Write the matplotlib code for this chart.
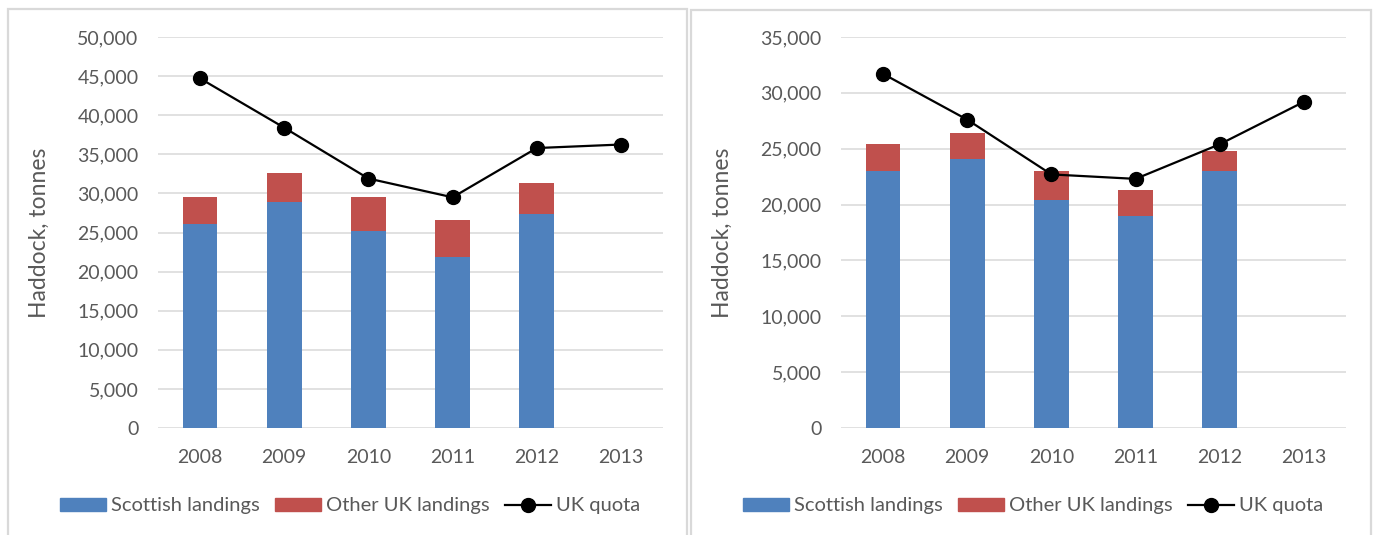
import matplotlib.pyplot as plt
from matplotlib.patches import Rectangle, Patch
from matplotlib.lines import Line2D
from matplotlib.ticker import FuncFormatter, MultipleLocator

plt.rcParams['font.family'] = ['Lato', 'DejaVu Sans']

years = ['2008', '2009', '2010', '2011', '2012', '2013']

# left panel
left_scottish = [26100, 28900, 25200, 21900, 27400, 0]
left_total = [29600, 32600, 29600, 26600, 31300, 0]
left_quota = [44700, 38400, 31900, 29500, 35800, 36250]

# right panel
right_scottish = [23000, 24100, 20450, 19000, 23000, 0]
right_total = [25400, 26400, 23000, 21300, 24800, 0]
right_quota = [31700, 27600, 22700, 22300, 25400, 29200]

blue = '#4F81BD'
red = '#C0504D'
grey_txt = '#595959'
grid_col = '#D9D9D9'

W, H = 1374, 535
fig = plt.figure(figsize=(W / 100, H / 100), dpi=100)


def px_rect(x0, y0, x1, y1):
    # pixel box (top-left origin) -> figure fraction
    return [x0 / W, 1 - y1 / H, (x1 - x0) / W, (y1 - y0) / H]


def draw_panel(box, scottish, total, quota, ymax):
    ax = fig.add_axes(px_rect(*box))
    x = list(range(len(years)))
    other = [t - s for t, s in zip(total, scottish)]
    ax.bar(x, scottish, width=0.41, color=blue, zorder=2)
    ax.bar(x, other, width=0.41, bottom=scottish, color=red, zorder=2)
    ax.plot(x, quota, color='black', lw=1.6, marker='o', ms=10, zorder=3)

    ax.set_xlim(-0.5, len(years) - 0.5)
    ax.set_ylim(0, ymax)
    ax.set_xticks(x)
    ax.set_xticklabels(years)
    ax.yaxis.set_major_locator(MultipleLocator(5000))
    ax.yaxis.set_major_formatter(FuncFormatter(lambda v, p: f'{int(v):,}'))
    ax.tick_params(length=0, labelsize=14, colors=grey_txt)
    ax.tick_params(axis='y', pad=14)
    ax.tick_params(axis='x', pad=15)
    ax.grid(axis='y', color=grid_col, lw=1.1, zorder=0)
    for s in ax.spines.values():
        s.set_visible(False)
    ax.set_ylabel('Haddock, tonnes', fontsize=16.5, color=grey_txt)
    ax.yaxis.set_label_coords(-0.214, 0.5)
    return ax


draw_panel((158, 37, 663, 428), left_scottish, left_total, left_quota, 50000)
draw_panel((841, 37, 1346, 428), right_scottish, right_total, right_quota, 35000)

# panel frames
for x0, y0, x1 in [(8, 9, 687), (691, 10, 1371)]:
    fig.add_artist(Rectangle((x0 / W, 1 - 545 / H), (x1 - x0) / W, (545 - y0) / H,
                             transform=fig.transFigure, fill=False,
                             edgecolor=grid_col, lw=1.6))

handles = [Patch(color=blue), Patch(color=red),
           Line2D([], [], color='black', lw=1.6, marker='o', ms=10)]
labels = ['Scottish landings', 'Other UK landings', 'UK quota']
for cx in [350, 1033]:
    fig.legend(handles, labels, loc='center', bbox_to_anchor=(cx / W, 1 - 506 / H),
               ncol=3, frameon=False, fontsize=14.5, labelcolor=grey_txt,
               handlelength=2.3, handleheight=0.6, handletextpad=0.25,
               columnspacing=0.75)

fig.savefig('out.png', dpi=100, facecolor='white')
